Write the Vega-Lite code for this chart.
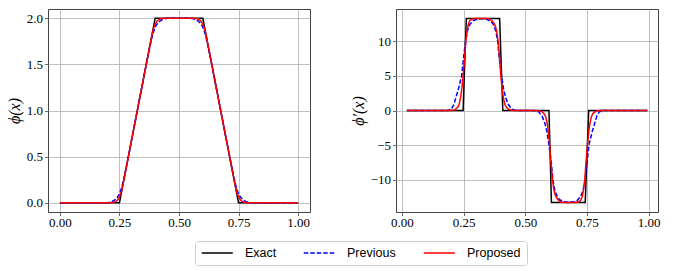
{
  "$schema": "https://vega.github.io/schema/vega-lite/v6.json",
  "padding": {"left": 5, "top": 8, "right": 5, "bottom": 5},
  "background": "white",
  "datasets": {
    "phi": [
      {"x": 0, "y": 0, "s": "Exact"}, {"x": 0.25, "y": 0, "s": "Exact"}, {"x": 0.4, "y": 2, "s": "Exact"}, {"x": 0.6, "y": 2, "s": "Exact"}, {"x": 0.75, "y": 0, "s": "Exact"}, {"x": 1, "y": 0, "s": "Exact"},
      {"x": 0, "y": 0, "s": "Previous"}, {"x": 0.19, "y": 0, "s": "Previous"}, {"x": 0.2, "y": 0.001, "s": "Previous"}, {"x": 0.21, "y": 0.005, "s": "Previous"}, {"x": 0.22, "y": 0.014, "s": "Previous"}, {"x": 0.23, "y": 0.03, "s": "Previous"}, {"x": 0.24, "y": 0.055, "s": "Previous"}, {"x": 0.25, "y": 0.095, "s": "Previous"}, {"x": 0.26, "y": 0.17, "s": "Previous"}, {"x": 0.27, "y": 0.28, "s": "Previous"}, {"x": 0.28, "y": 0.405, "s": "Previous"}, {"x": 0.29, "y": 0.535, "s": "Previous"}, {"x": 0.3, "y": 0.667, "s": "Previous"},
      {"x": 0.35, "y": 1.333, "s": "Previous"}, {"x": 0.36, "y": 1.465, "s": "Previous"}, {"x": 0.37, "y": 1.595, "s": "Previous"}, {"x": 0.38, "y": 1.72, "s": "Previous"}, {"x": 0.39, "y": 1.83, "s": "Previous"}, {"x": 0.4, "y": 1.905, "s": "Previous"}, {"x": 0.41, "y": 1.945, "s": "Previous"}, {"x": 0.42, "y": 1.97, "s": "Previous"}, {"x": 0.43, "y": 1.986, "s": "Previous"}, {"x": 0.44, "y": 1.995, "s": "Previous"}, {"x": 0.45, "y": 1.999, "s": "Previous"}, {"x": 0.46, "y": 2, "s": "Previous"},
      {"x": 0.54, "y": 2, "s": "Previous"}, {"x": 0.55, "y": 1.999, "s": "Previous"}, {"x": 0.56, "y": 1.995, "s": "Previous"}, {"x": 0.57, "y": 1.986, "s": "Previous"}, {"x": 0.58, "y": 1.97, "s": "Previous"}, {"x": 0.59, "y": 1.945, "s": "Previous"}, {"x": 0.6, "y": 1.905, "s": "Previous"}, {"x": 0.61, "y": 1.83, "s": "Previous"}, {"x": 0.62, "y": 1.72, "s": "Previous"}, {"x": 0.63, "y": 1.595, "s": "Previous"}, {"x": 0.64, "y": 1.465, "s": "Previous"}, {"x": 0.65, "y": 1.333, "s": "Previous"},
      {"x": 0.7, "y": 0.667, "s": "Previous"}, {"x": 0.71, "y": 0.535, "s": "Previous"}, {"x": 0.72, "y": 0.405, "s": "Previous"}, {"x": 0.73, "y": 0.28, "s": "Previous"}, {"x": 0.74, "y": 0.17, "s": "Previous"}, {"x": 0.75, "y": 0.095, "s": "Previous"}, {"x": 0.76, "y": 0.055, "s": "Previous"}, {"x": 0.77, "y": 0.03, "s": "Previous"}, {"x": 0.78, "y": 0.014, "s": "Previous"}, {"x": 0.79, "y": 0.005, "s": "Previous"}, {"x": 0.8, "y": 0.001, "s": "Previous"}, {"x": 0.81, "y": 0, "s": "Previous"}, {"x": 1, "y": 0, "s": "Previous"},
      {"x": 0, "y": 0, "s": "Proposed"}, {"x": 0.21, "y": 0, "s": "Proposed"}, {"x": 0.22, "y": 0.002, "s": "Proposed"}, {"x": 0.23, "y": 0.008, "s": "Proposed"}, {"x": 0.24, "y": 0.026, "s": "Proposed"}, {"x": 0.245, "y": 0.042, "s": "Proposed"}, {"x": 0.25, "y": 0.064, "s": "Proposed"}, {"x": 0.255, "y": 0.097, "s": "Proposed"}, {"x": 0.26, "y": 0.14, "s": "Proposed"}, {"x": 0.265, "y": 0.2, "s": "Proposed"}, {"x": 0.27, "y": 0.27, "s": "Proposed"}, {"x": 0.28, "y": 0.4, "s": "Proposed"},
      {"x": 0.37, "y": 1.6, "s": "Proposed"}, {"x": 0.38, "y": 1.73, "s": "Proposed"}, {"x": 0.385, "y": 1.8, "s": "Proposed"}, {"x": 0.39, "y": 1.86, "s": "Proposed"}, {"x": 0.395, "y": 1.903, "s": "Proposed"}, {"x": 0.4, "y": 1.936, "s": "Proposed"}, {"x": 0.405, "y": 1.958, "s": "Proposed"}, {"x": 0.41, "y": 1.974, "s": "Proposed"}, {"x": 0.42, "y": 1.992, "s": "Proposed"}, {"x": 0.43, "y": 1.998, "s": "Proposed"}, {"x": 0.44, "y": 2, "s": "Proposed"},
      {"x": 0.56, "y": 2, "s": "Proposed"}, {"x": 0.57, "y": 1.998, "s": "Proposed"}, {"x": 0.58, "y": 1.992, "s": "Proposed"}, {"x": 0.59, "y": 1.974, "s": "Proposed"}, {"x": 0.595, "y": 1.958, "s": "Proposed"}, {"x": 0.6, "y": 1.936, "s": "Proposed"}, {"x": 0.605, "y": 1.903, "s": "Proposed"}, {"x": 0.61, "y": 1.86, "s": "Proposed"}, {"x": 0.615, "y": 1.8, "s": "Proposed"}, {"x": 0.62, "y": 1.73, "s": "Proposed"}, {"x": 0.63, "y": 1.6, "s": "Proposed"},
      {"x": 0.72, "y": 0.4, "s": "Proposed"}, {"x": 0.73, "y": 0.27, "s": "Proposed"}, {"x": 0.735, "y": 0.2, "s": "Proposed"}, {"x": 0.74, "y": 0.14, "s": "Proposed"}, {"x": 0.745, "y": 0.097, "s": "Proposed"}, {"x": 0.75, "y": 0.064, "s": "Proposed"}, {"x": 0.755, "y": 0.042, "s": "Proposed"}, {"x": 0.76, "y": 0.026, "s": "Proposed"}, {"x": 0.77, "y": 0.008, "s": "Proposed"}, {"x": 0.78, "y": 0.002, "s": "Proposed"}, {"x": 0.79, "y": 0, "s": "Proposed"}, {"x": 1, "y": 0, "s": "Proposed"}
    ],
    "dphi": [
      {"x": 0.02, "y": 0, "s": "Exact"}, {"x": 0.248, "y": 0, "s": "Exact"}, {"x": 0.261, "y": 13.333, "s": "Exact"}, {"x": 0.396, "y": 13.333, "s": "Exact"}, {"x": 0.409, "y": 0, "s": "Exact"}, {"x": 0.596, "y": 0, "s": "Exact"}, {"x": 0.606, "y": -13.333, "s": "Exact"}, {"x": 0.743, "y": -13.333, "s": "Exact"}, {"x": 0.757, "y": 0, "s": "Exact"}, {"x": 0.995, "y": 0, "s": "Exact"},
      {"x": 0.02, "y": 0, "s": "Previous"}, {"x": 0.18, "y": 0, "s": "Previous"}, {"x": 0.19, "y": 0.05, "s": "Previous"}, {"x": 0.2, "y": 0.2, "s": "Previous"}, {"x": 0.21, "y": 0.8, "s": "Previous"}, {"x": 0.219, "y": 1.9, "s": "Previous"}, {"x": 0.229, "y": 3.1, "s": "Previous"}, {"x": 0.242, "y": 5, "s": "Previous"}, {"x": 0.25, "y": 7.7, "s": "Previous"}, {"x": 0.258, "y": 10.1, "s": "Previous"}, {"x": 0.266, "y": 11.6, "s": "Previous"}, {"x": 0.276, "y": 12.5, "s": "Previous"}, {"x": 0.289, "y": 13.0, "s": "Previous"}, {"x": 0.303, "y": 13.2, "s": "Previous"}, {"x": 0.32, "y": 13.3, "s": "Previous"}, {"x": 0.33, "y": 13.3, "s": "Previous"}, {"x": 0.343, "y": 13.2, "s": "Previous"}, {"x": 0.361, "y": 12.9, "s": "Previous"}, {"x": 0.37, "y": 12.5, "s": "Previous"}, {"x": 0.38, "y": 11.6, "s": "Previous"}, {"x": 0.388, "y": 10.1, "s": "Previous"}, {"x": 0.394, "y": 7.7, "s": "Previous"}, {"x": 0.404, "y": 5, "s": "Previous"}, {"x": 0.412, "y": 3.1, "s": "Previous"}, {"x": 0.42, "y": 1.9, "s": "Previous"}, {"x": 0.431, "y": 0.9, "s": "Previous"}, {"x": 0.445, "y": 0.2, "s": "Previous"}, {"x": 0.46, "y": 0.03, "s": "Previous"}, {"x": 0.47, "y": 0, "s": "Previous"},
      {"x": 0.53, "y": 0, "s": "Previous"}, {"x": 0.54, "y": -0.03, "s": "Previous"}, {"x": 0.555, "y": -0.2, "s": "Previous"}, {"x": 0.569, "y": -0.9, "s": "Previous"}, {"x": 0.58, "y": -1.9, "s": "Previous"}, {"x": 0.588, "y": -3.1, "s": "Previous"}, {"x": 0.596, "y": -5, "s": "Previous"}, {"x": 0.606, "y": -7.7, "s": "Previous"}, {"x": 0.612, "y": -10.1, "s": "Previous"}, {"x": 0.62, "y": -11.6, "s": "Previous"}, {"x": 0.63, "y": -12.5, "s": "Previous"}, {"x": 0.639, "y": -12.9, "s": "Previous"}, {"x": 0.657, "y": -13.2, "s": "Previous"}, {"x": 0.67, "y": -13.3, "s": "Previous"}, {"x": 0.68, "y": -13.3, "s": "Previous"}, {"x": 0.697, "y": -13.2, "s": "Previous"}, {"x": 0.711, "y": -13.0, "s": "Previous"}, {"x": 0.724, "y": -12.5, "s": "Previous"}, {"x": 0.734, "y": -11.6, "s": "Previous"}, {"x": 0.742, "y": -10.1, "s": "Previous"}, {"x": 0.75, "y": -7.7, "s": "Previous"}, {"x": 0.758, "y": -5, "s": "Previous"}, {"x": 0.771, "y": -3.1, "s": "Previous"}, {"x": 0.781, "y": -1.9, "s": "Previous"}, {"x": 0.79, "y": -0.8, "s": "Previous"}, {"x": 0.8, "y": -0.2, "s": "Previous"}, {"x": 0.81, "y": -0.05, "s": "Previous"}, {"x": 0.82, "y": 0, "s": "Previous"}, {"x": 0.995, "y": 0, "s": "Previous"},
      {"x": 0.02, "y": 0, "s": "Proposed"}, {"x": 0.19, "y": 0, "s": "Proposed"}, {"x": 0.205, "y": 0.03, "s": "Proposed"}, {"x": 0.215, "y": 0.12, "s": "Proposed"}, {"x": 0.226, "y": 0.44, "s": "Proposed"}, {"x": 0.232, "y": 0.9, "s": "Proposed"}, {"x": 0.238, "y": 1.9, "s": "Proposed"}, {"x": 0.243, "y": 3.2, "s": "Proposed"}, {"x": 0.248, "y": 5, "s": "Proposed"}, {"x": 0.254, "y": 7.6, "s": "Proposed"}, {"x": 0.259, "y": 10.1, "s": "Proposed"}, {"x": 0.264, "y": 11.5, "s": "Proposed"}, {"x": 0.269, "y": 12.5, "s": "Proposed"}, {"x": 0.275, "y": 13.0, "s": "Proposed"}, {"x": 0.282, "y": 13.2, "s": "Proposed"}, {"x": 0.29, "y": 13.3, "s": "Proposed"}, {"x": 0.3, "y": 13.33, "s": "Proposed"}, {"x": 0.345, "y": 13.33, "s": "Proposed"}, {"x": 0.355, "y": 13.25, "s": "Proposed"}, {"x": 0.365, "y": 13.0, "s": "Proposed"}, {"x": 0.372, "y": 12.7, "s": "Proposed"}, {"x": 0.378, "y": 12.3, "s": "Proposed"}, {"x": 0.384, "y": 11.5, "s": "Proposed"}, {"x": 0.39, "y": 10, "s": "Proposed"}, {"x": 0.396, "y": 7.5, "s": "Proposed"}, {"x": 0.401, "y": 5, "s": "Proposed"}, {"x": 0.406, "y": 3.2, "s": "Proposed"}, {"x": 0.411, "y": 1.9, "s": "Proposed"}, {"x": 0.417, "y": 0.9, "s": "Proposed"}, {"x": 0.424, "y": 0.44, "s": "Proposed"}, {"x": 0.433, "y": 0.15, "s": "Proposed"}, {"x": 0.445, "y": 0.03, "s": "Proposed"}, {"x": 0.46, "y": 0, "s": "Proposed"},
      {"x": 0.54, "y": 0, "s": "Proposed"}, {"x": 0.555, "y": -0.03, "s": "Proposed"}, {"x": 0.567, "y": -0.15, "s": "Proposed"}, {"x": 0.576, "y": -0.44, "s": "Proposed"}, {"x": 0.583, "y": -0.9, "s": "Proposed"}, {"x": 0.589, "y": -1.9, "s": "Proposed"}, {"x": 0.594, "y": -3.2, "s": "Proposed"}, {"x": 0.599, "y": -5, "s": "Proposed"}, {"x": 0.604, "y": -7.5, "s": "Proposed"}, {"x": 0.61, "y": -10, "s": "Proposed"}, {"x": 0.616, "y": -11.5, "s": "Proposed"}, {"x": 0.622, "y": -12.3, "s": "Proposed"}, {"x": 0.628, "y": -12.7, "s": "Proposed"}, {"x": 0.635, "y": -13.0, "s": "Proposed"}, {"x": 0.645, "y": -13.25, "s": "Proposed"}, {"x": 0.655, "y": -13.33, "s": "Proposed"}, {"x": 0.7, "y": -13.33, "s": "Proposed"}, {"x": 0.71, "y": -13.3, "s": "Proposed"}, {"x": 0.718, "y": -13.2, "s": "Proposed"}, {"x": 0.725, "y": -13.0, "s": "Proposed"}, {"x": 0.731, "y": -12.5, "s": "Proposed"}, {"x": 0.736, "y": -11.5, "s": "Proposed"}, {"x": 0.741, "y": -10.1, "s": "Proposed"}, {"x": 0.746, "y": -7.6, "s": "Proposed"}, {"x": 0.752, "y": -5, "s": "Proposed"}, {"x": 0.757, "y": -3.2, "s": "Proposed"}, {"x": 0.762, "y": -1.9, "s": "Proposed"}, {"x": 0.768, "y": -0.9, "s": "Proposed"}, {"x": 0.774, "y": -0.44, "s": "Proposed"}, {"x": 0.785, "y": -0.12, "s": "Proposed"}, {"x": 0.795, "y": -0.03, "s": "Proposed"}, {"x": 0.81, "y": 0, "s": "Proposed"}, {"x": 0.995, "y": 0, "s": "Proposed"}
    ]
  },
  "spacing": 38,
  "hconcat": [
    {
      "width": 262,
      "height": 203,
      "data": {"name": "phi"},
      "mark": {"type": "line", "strokeWidth": 1.5, "clip": true},
      "encoding": {
        "x": {"field": "x", "type": "quantitative", "scale": {"domain": [-0.05, 1.05], "nice": false, "zero": false},
              "axis": {"title": null, "values": [0, 0.25, 0.5, 0.75, 1], "format": ".2f", "labelFlush": false, "labelPadding": 1}},
        "y": {"field": "y", "type": "quantitative", "scale": {"domain": [-0.1, 2.1], "nice": false, "zero": false},
              "axis": {"title": "ϕ(x)", "values": [0, 0.5, 1, 1.5, 2], "format": ".1f", "titlePadding": 4}},
        "color": {"field": "s", "type": "nominal", "title": null,
                  "scale": {"domain": ["Exact", "Previous", "Proposed"], "range": ["black", "blue", "red"]},
                  "legend": {"orient": "none", "legendX": 147, "legendY": 232, "direction": "horizontal", "columns": 3}},
        "strokeDash": {"field": "s", "type": "nominal", "title": null,
                  "scale": {"domain": ["Exact", "Previous", "Proposed"], "range": [[1, 0], [4.5, 2], [1, 0]]},
                  "legend": {"orient": "none", "legendX": 147, "legendY": 232, "direction": "horizontal", "columns": 3}}
      }
    },
    {
      "width": 262,
      "height": 203,
      "data": {"name": "dphi"},
      "mark": {"type": "line", "strokeWidth": 1.5, "clip": true},
      "encoding": {
        "x": {"field": "x", "type": "quantitative", "scale": {"domain": [-0.024, 1.038], "nice": false, "zero": false},
              "axis": {"title": null, "values": [0, 0.25, 0.5, 0.75, 1], "format": ".2f", "labelFlush": false, "labelPadding": 1}},
        "y": {"field": "y", "type": "quantitative", "scale": {"domain": [-14.7, 14.7], "nice": false, "zero": false},
              "axis": {"title": "ϕ′(x)", "values": [-10, -5, 0, 5, 10], "format": "d", "titlePadding": 4}},
        "color": {"field": "s", "type": "nominal", "title": null,
                  "scale": {"domain": ["Exact", "Previous", "Proposed"], "range": ["black", "blue", "red"]},
                  "legend": {"orient": "none", "legendX": 147, "legendY": 232, "direction": "horizontal", "columns": 3}},
        "strokeDash": {"field": "s", "type": "nominal", "title": null,
                  "scale": {"domain": ["Exact", "Previous", "Proposed"], "range": [[1, 0], [4.5, 2], [1, 0]]},
                  "legend": {"orient": "none", "legendX": 147, "legendY": 232, "direction": "horizontal", "columns": 3}}
      }
    }
  ],
  "resolve": {"scale": {"color": "shared", "strokeDash": "shared"}, "legend": {"color": "shared", "strokeDash": "shared"}},
  "config": {
    "view": {"stroke": "#444444", "strokeWidth": 1},
    "axis": {"grid": true, "gridColor": "#b0b0b0", "gridWidth": 0.8, "gridOpacity": 1, "domain": false,
             "tickColor": "#444444", "tickSize": 3.5, "tickWidth": 0.8,
             "labelFont": "Liberation Serif, Times New Roman, DejaVu Serif, serif", "labelFontSize": 13, "labelColor": "black", "labelPadding": 2,
             "titleFont": "Liberation Serif, DejaVu Serif, serif", "titleFontSize": 16, "titleFontStyle": "italic", "titleFontWeight": "normal", "titleColor": "black"},
    "legend": {"symbolType": "M-1,0H5.2", "symbolSize": 100, "symbolStrokeWidth": 1.5,
               "labelFont": "Liberation Sans, Arial, sans-serif", "labelFontSize": 12.5, "labelColor": "black", "labelOffset": 32,
               "columnPadding": 24, "padding": 5.5, "strokeColor": "#cccccc", "cornerRadius": 3, "fillColor": "white"}
  }
}
